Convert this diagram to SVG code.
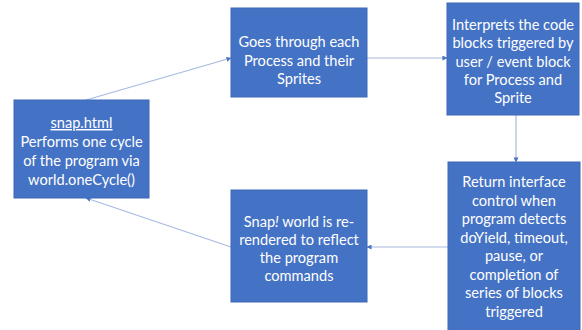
<svg xmlns="http://www.w3.org/2000/svg" width="582" height="330" viewBox="0 0 582 330">
<style>
.box{fill:#4472C4;stroke:#3E69B8;stroke-width:1}
.t{font-family:Lato,"Liberation Sans",sans-serif;font-size:14.6px;fill:#FFFFFF;text-anchor:middle}
.c{stroke:#A7BAE0;stroke-width:1.2;fill:none;marker-end:url(#ah)}
</style>
<defs>
<marker id="ah" viewBox="0 0 6 6" refX="5.5" refY="3" markerWidth="5" markerHeight="5" orient="auto" markerUnits="userSpaceOnUse">
<path d="M0,0 L6,3 L0,6 Z" fill="#4A72BE"/>
</marker>
</defs>
<rect width="582" height="330" fill="#FFFFFF"/>
<g id="connectors">
<line class="c" x1="86" y1="100" x2="231" y2="58"/>
<line class="c" x1="367" y1="58" x2="447" y2="58"/>
<line class="c" x1="516" y1="115" x2="516" y2="162"/>
<line class="c" x1="448" y1="247" x2="367" y2="247"/>
<line class="c" x1="231" y1="247" x2="86" y2="198"/>
</g>
<g id="node1">
<rect class="box" x="14" y="100" width="135" height="98"/>
<text class="t" x="81.5" y="128" text-decoration="underline">snap.html</text>
<text class="t" x="81.5" y="147">Performs one cycle</text>
<text class="t" x="81.5" y="166">of the program via</text>
<text class="t" x="81.5" y="185">world.oneCycle()</text>
</g>
<g id="node2">
<rect class="box" x="231" y="8" width="136" height="89"/>
<text class="t" x="299" y="47">Goes through each</text>
<text class="t" x="299" y="65.5">Process and their</text>
<text class="t" x="299" y="84">Sprites</text>
</g>
<g id="node3">
<rect class="box" x="447" y="3" width="132" height="112"/>
<text class="t" x="513" y="30">Interprets the code</text>
<text class="t" x="513" y="48">blocks triggered by</text>
<text class="t" x="513" y="66.5">user / event block</text>
<text class="t" x="513" y="84.5">for Process and</text>
<text class="t" x="513" y="102.5">Sprite</text>
</g>
<g id="node4">
<rect class="box" x="448" y="162" width="132" height="172"/>
<text class="t" x="514" y="187">Return interface</text>
<text class="t" x="514" y="205.5">control when</text>
<text class="t" x="514" y="224">program detects</text>
<text class="t" x="514" y="242.5">doYield, timeout,</text>
<text class="t" x="514" y="261">pause, or</text>
<text class="t" x="514" y="279.5">completion of</text>
<text class="t" x="514" y="298">series of blocks</text>
<text class="t" x="514" y="316.5">triggered</text>
</g>
<g id="node5">
<rect class="box" x="231" y="190" width="136" height="112"/>
<text class="t" x="299" y="227">Snap<tspan font-style="italic">!</tspan> world is re-</text>
<text class="t" x="299" y="245">rendered to reflect</text>
<text class="t" x="299" y="263">the program</text>
<text class="t" x="299" y="280.5">commands</text>
</g>
</svg>
